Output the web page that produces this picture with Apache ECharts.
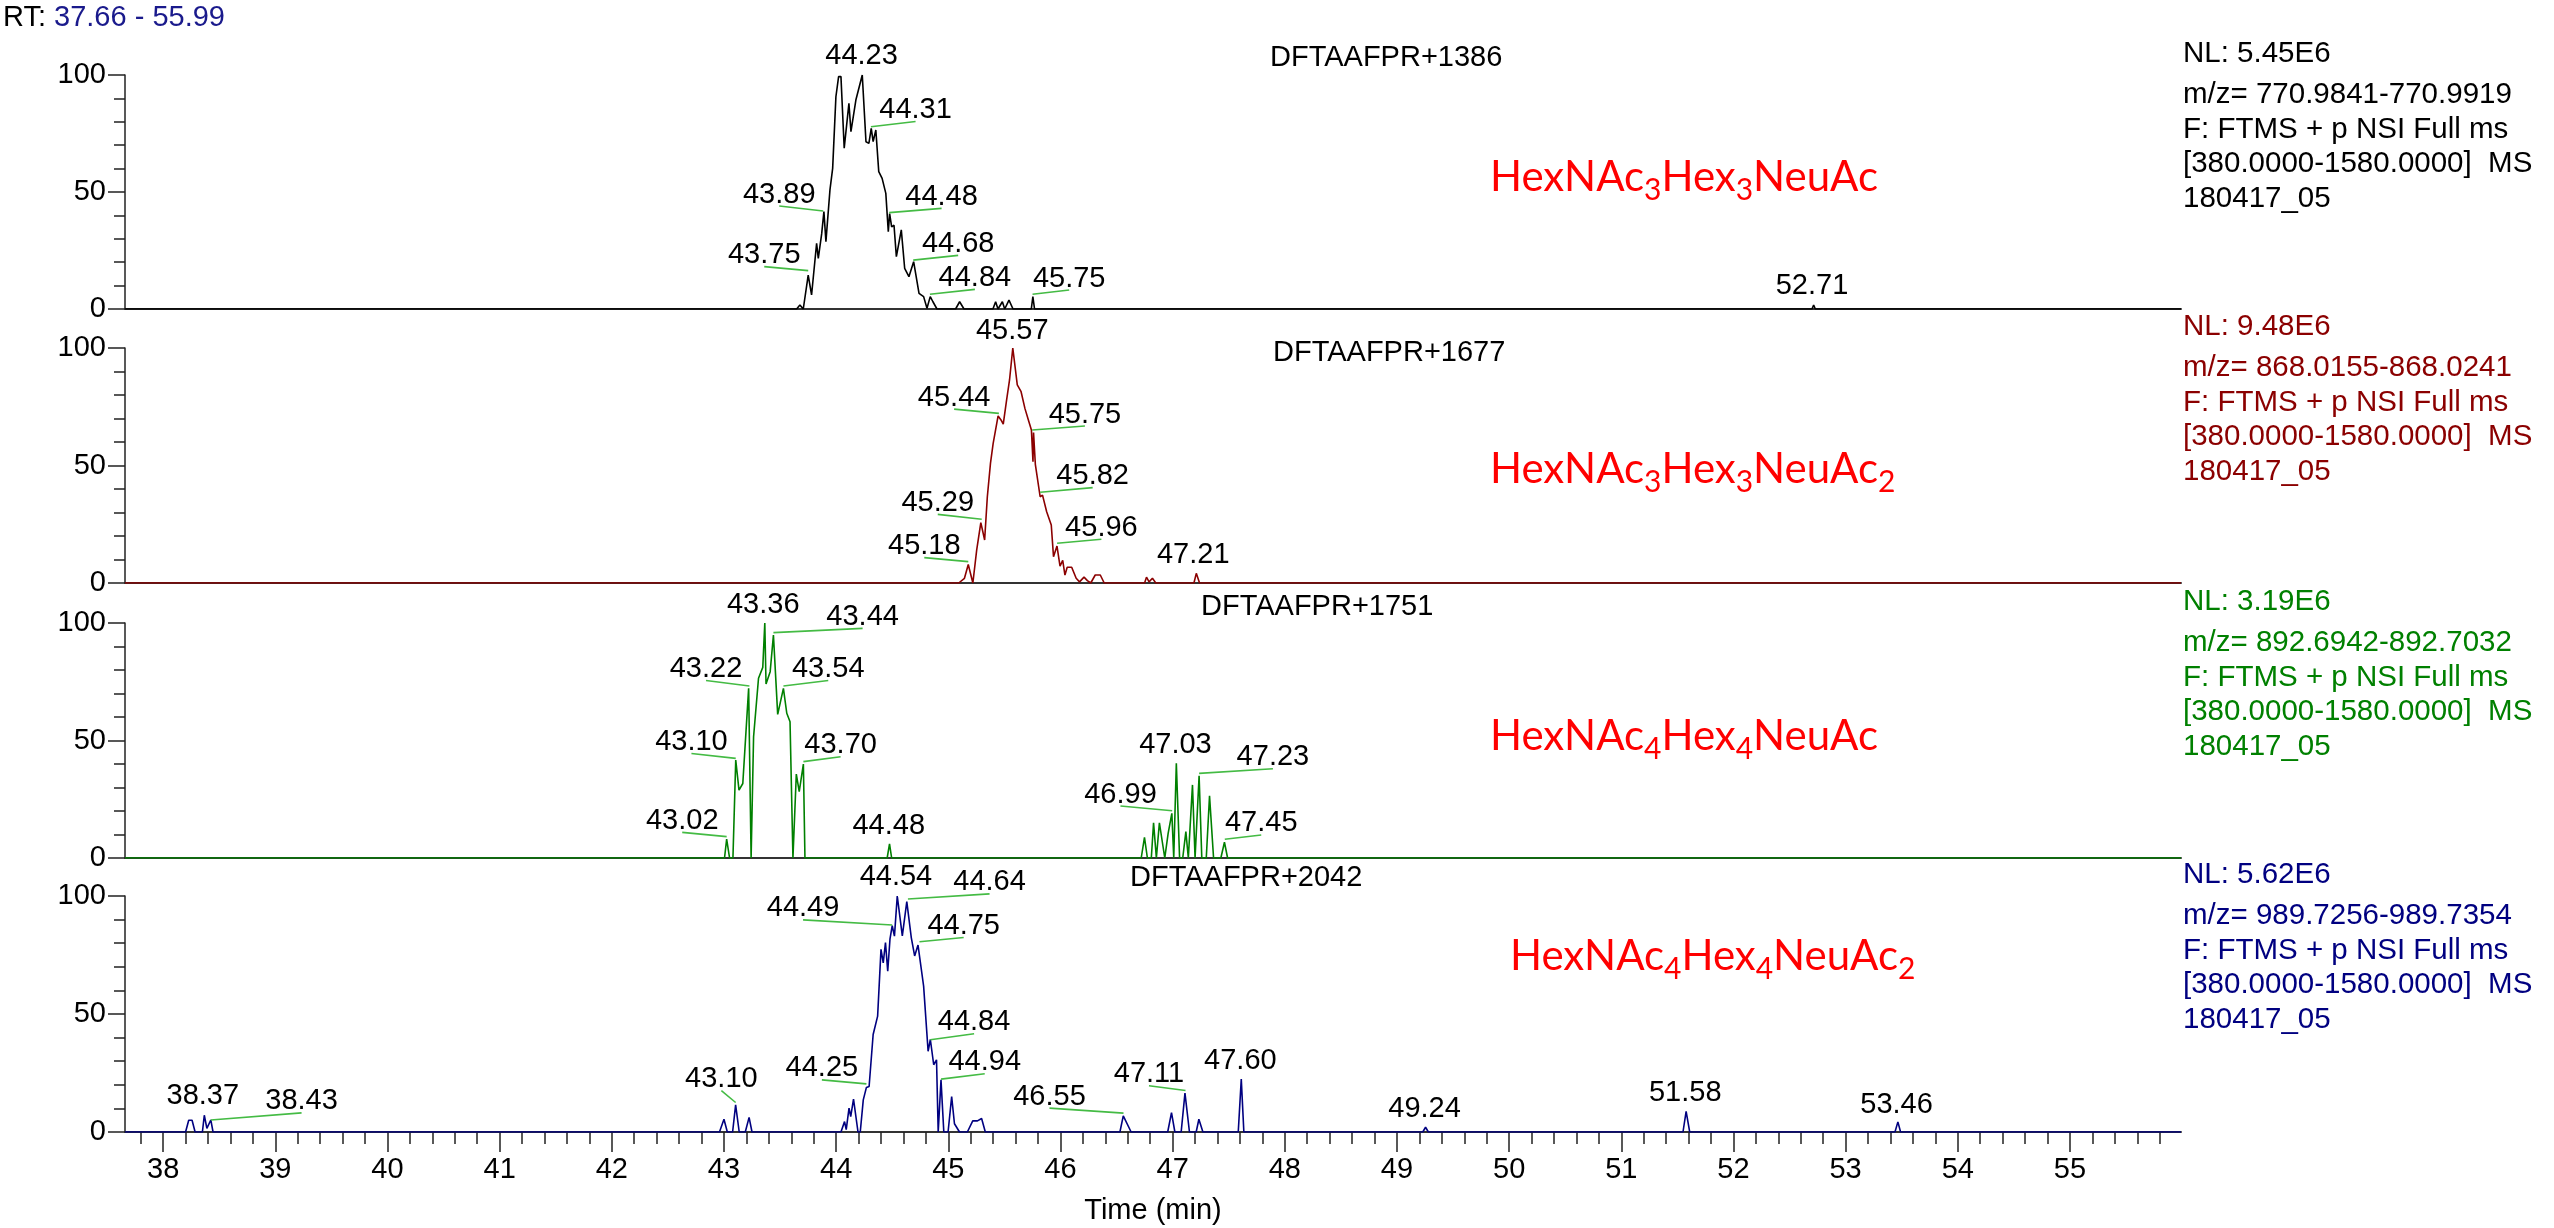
<!DOCTYPE html>
<html>
<head>
<meta charset="utf-8">
<script src="https://cdn.jsdelivr.net/npm/echarts@6/dist/echarts.min.js"></script>
<style>
html,body{margin:0;padding:0;background:#fff;}
#chart{width:2554px;height:1228px;}
</style>
</head>
<body>
<div id="chart"></div>
<script>
// ---------------- DATA ----------------
const timeMin = 37.66, timeMax = 55.99;
const xTickLabels = [38,39,40,41,42,43,44,45,46,47,48,49,50,51,52,53,54,55];
const yTickLabels = [0,50,100];
const yMinorTicks = [10,20,30,40,60,70,80,90];
const rtRange = '37.66 - 55.99';

const panelNames = ['DFTAAFPR+1386','DFTAAFPR+1677','DFTAAFPR+1751','DFTAAFPR+2042'];
const glycanNames = [
  '{n|HexNAc}{s|3}{n|Hex}{s|3}{n|NeuAc}',
  '{n|HexNAc}{s|3}{n|Hex}{s|3}{n|NeuAc}{s|2}',
  '{n|HexNAc}{s|4}{n|Hex}{s|4}{n|NeuAc}',
  '{n|HexNAc}{s|4}{n|Hex}{s|4}{n|NeuAc}{s|2}'
];
const infoNL = ['NL: 5.45E6','NL: 9.48E6','NL: 3.19E6','NL: 5.62E6'];
const infoMz = ['m/z= 770.9841-770.9919','m/z= 868.0155-868.0241','m/z= 892.6942-892.7032','m/z= 989.7256-989.7354'];
const infoScan = 'F: FTMS + p NSI Full ms';
const infoRange = '[380.0000-1580.0000]  MS';
const infoFile = '180417_05';

// traces: [time (min), relative abundance (%)]
const trace1 = [[37.66,0],[43.648,0],[43.677,1.7],[43.707,0],[43.751,14.5],[43.781,6.0],[43.826,28.1],[43.841,21.6],[43.871,32.1],[43.891,41.6],[43.909,28.8],[43.945,50.9],[43.969,60.1],[43.998,90.7],[44.022,99.3],[44.043,99.3],[44.072,68.7],[44.114,87.9],[44.132,75.8],[44.176,89.3],[44.233,100],[44.266,71.5],[44.292,70.8],[44.313,77.2],[44.33,71.5],[44.354,76.5],[44.371,76.5],[44.38,58.7],[44.41,55.8],[44.443,49.4],[44.465,33.0],[44.477,40.8],[44.495,35.1],[44.516,35.8],[44.537,22.4],[44.581,33.8],[44.611,17.4],[44.649,13.8],[44.691,20.2],[44.739,6.7],[44.78,5.3],[44.81,0.3],[44.839,5.3],[44.863,3.1],[44.899,0],[45.065,0],[45.101,3.1],[45.14,0],[45.398,0],[45.422,3.1],[45.443,0],[45.482,3.1],[45.503,0],[45.541,3.8],[45.577,0],[45.74,0],[45.754,5.3],[45.769,0],[52.70,0],[52.715,1.7],[52.73,0],[55.99,0]];
const trace2 = [[37.66,0],[45.093,0],[45.144,2],[45.178,7.9],[45.219,0],[45.253,14],[45.29,25.7],[45.324,18.3],[45.348,36.7],[45.376,50.9],[45.40,59.4],[45.444,71.1],[45.47,69.4],[45.49,67.6],[45.52,77.9],[45.546,86.4],[45.575,100],[45.615,84.3],[45.649,81.4],[45.683,74.3],[45.718,68.7],[45.741,65.1],[45.755,51.6],[45.76,64],[45.776,50.5],[45.819,36.7],[45.84,37.4],[45.877,30.3],[45.918,24.7],[45.938,11.2],[45.969,15.7],[45.996,7.2],[46.02,9.6],[46.04,3.4],[46.06,6.7],[46.10,6.7],[46.14,2],[46.17,0.5],[46.21,2.5],[46.24,1],[46.27,0],[46.31,3.4],[46.355,3.4],[46.39,0],[46.75,0],[46.767,2.5],[46.79,0.5],[46.82,2],[46.85,0],[47.19,0],[47.211,4.1],[47.24,0],[55.99,0]];
const trace3 = [[37.66,0],[43.005,0],[43.024,8.0],[43.05,0],[43.08,0],[43.105,41.7],[43.134,28.9],[43.168,31.7],[43.22,72.2],[43.242,0],[43.264,51.6],[43.308,76.5],[43.346,81.1],[43.364,100],[43.375,74],[43.412,79.3],[43.441,94.9],[43.479,61.1],[43.53,72.2],[43.56,61.6],[43.589,58],[43.615,0],[43.645,35.7],[43.671,28.2],[43.708,40],[43.722,0],[44.455,0],[44.476,6.0],[44.495,0],[46.72,0],[46.749,8.8],[46.775,0],[46.81,0],[46.83,15],[46.855,0],[46.882,15],[46.93,0],[46.96,10.5],[46.993,19],[47.01,0],[47.033,40.3],[47.062,0],[47.09,0],[47.118,11.2],[47.14,0],[47.177,31.1],[47.2,0],[47.236,35],[47.26,0],[47.30,0],[47.329,26.5],[47.365,0],[47.43,0],[47.462,6.7],[47.49,0],[55.99,0]];
const trace4 = [[37.66,0],[38.20,0],[38.228,5],[38.258,5],[38.285,0],[38.35,0],[38.367,7.1],[38.39,1.5],[38.425,5.1],[38.445,0],[42.96,0],[43.0,5.4],[43.03,0],[43.077,0],[43.104,11.5],[43.136,0],[43.19,0],[43.224,6.2],[43.25,0],[44.043,0],[44.075,4.4],[44.09,1],[44.115,10.1],[44.13,6.5],[44.155,13.9],[44.195,0],[44.215,0],[44.242,13.6],[44.27,18.9],[44.294,19.3],[44.33,41.3],[44.37,49.1],[44.40,77.4],[44.42,71.7],[44.44,80.3],[44.46,68.1],[44.48,81.7],[44.50,87.4],[44.52,83],[44.545,100],[44.59,83.1],[44.63,97.6],[44.67,82.4],[44.70,74.6],[44.73,79.2],[44.743,79.2],[44.78,61.8],[44.82,34.2],[44.84,39.2],[44.87,28.5],[44.895,30.6],[44.91,0],[44.935,22.1],[44.96,0],[44.998,0],[45.03,15],[45.055,3.5],[45.1,0],[45.17,0],[45.218,4.7],[45.26,4.7],[45.297,5.7],[45.33,0],[46.53,0],[46.56,6.8],[46.63,0],[46.956,0],[46.99,8.2],[47.02,0],[47.076,0],[47.11,16.5],[47.15,0],[47.21,0],[47.234,5.4],[47.27,0],[47.585,0],[47.612,22.4],[47.635,0],[49.23,0],[49.255,2],[49.28,0],[51.55,0],[51.578,8.7],[51.61,0],[53.44,0],[53.466,4.3],[53.49,0],[55.99,0]];

// peak labels: [peak time, peak abundance, label time, label abundance, text]
const labels1 = [[44.233,100,44.227,104.3,'44.23'],[44.31,77.9,44.708,80.1,'44.31'],[43.885,41.9,43.493,44.0,'43.89'],[43.751,16.4,43.359,18.1,'43.75'],[44.473,41.2,44.94,43.0,'44.48'],[44.687,20.9,45.088,22.9,'44.68'],[44.836,6.3,45.237,8.4,'44.84'],[45.751,6.3,46.078,8.1,'45.75'],[52.72,1.7,52.70,6.0,'52.71']];
const labels2 = [[45.575,100,45.57,103.7,'45.57'],[45.451,72.2,45.052,74.0,'45.44'],[45.748,65.1,46.218,66.8,'45.75'],[45.819,38.6,46.287,40.6,'45.82'],[45.298,27.1,44.906,29.2,'45.29'],[45.178,9.1,44.786,10.8,'45.18'],[45.97,16.9,46.365,18.6,'45.96'],[47.211,4.1,47.184,8.4,'47.21']];
const labels3 = [[43.364,100,43.35,104.1,'43.36'],[43.441,95.9,44.236,97.7,'43.44'],[43.227,73.2,42.84,75.5,'43.22'],[43.53,73.2,43.93,75.5,'43.54'],[43.105,42.4,42.71,44.5,'43.10'],[43.708,41,44.04,43.1,'43.70'],[43.024,9.1,42.628,10.9,'43.02'],[44.476,6.0,44.469,9.8,'44.48'],[47.033,40.3,47.025,44.3,'47.03'],[46.996,20.1,46.535,22.1,'46.99'],[47.236,36,47.894,38,'47.23'],[47.465,8,47.79,9.8,'47.45']];
const labels4 = [[44.545,100,44.533,104.4,'44.54'],[44.64,98.7,45.368,100.9,'44.64'],[44.50,87.7,43.705,89.9,'44.49'],[44.743,80.6,45.137,82.4,'44.75'],[44.84,39.1,45.23,41.6,'44.84'],[44.935,22.4,45.325,24.7,'44.94'],[44.27,20.4,43.873,22.1,'44.25'],[43.104,12.5,42.977,17.5,'43.10'],[46.562,8,45.902,10.1,'46.55'],[47.115,17.6,46.789,19.6,'47.11'],[47.612,22.4,47.604,26.4,'47.60'],[49.255,2,49.246,6.3,'49.24'],[51.578,8.7,51.57,12.9,'51.58'],[53.466,4.3,53.454,8,'53.46'],[38.367,7.1,38.354,11.5,'38.37'],[38.425,5.1,39.234,8.1,'38.43']];

// ---------------- LAYOUT / STYLE ----------------
const traces = [trace1, trace2, trace3, trace4];
const peakLabels = [labels1, labels2, labels3, labels4];
const colors = ['#000000', '#8b0000', '#008000', '#000080'];
const FONT = '"Liberation Sans", Arial, sans-serif';
const gridLeft = 125, gridWidth = 2056;
const gridTops = [75, 348, 623, 896];
const gridHeights = [234, 235, 235, 236];
const titlePos = [[1270, 58], [1273, 353], [1201, 607], [1130, 878]];
const glycanPos = [[1490, 177], [1490, 469], [1490, 736], [1510, 956]];
const infoX = 2183;

const minorX = [];
for (let v = 37.8; v < 56; v += 0.2) minorX.push(Math.round(v * 10) / 10);

const chart = echarts.init(document.getElementById('chart'), null, {renderer: 'canvas'});

const grid = [], xAxis = [], yAxis = [], series = [], graphic = [];
for (let i = 0; i < 4; i++) {
  grid.push({left: gridLeft, width: gridWidth, top: gridTops[i], height: gridHeights[i]});
  const bottom = i === 3;
  xAxis.push({
    gridIndex: i, type: 'value', min: timeMin, max: timeMax,
    axisLine: {show: true, onZero: false, lineStyle: {color: '#333', width: 2}},
    axisTick: bottom ? {show: true, customValues: xTickLabels, length: 20, lineStyle: {color: '#222', width: 1.5}} : {show: false},
    axisLabel: bottom ? {show: true, customValues: xTickLabels, margin: 23, fontSize: 29, fontFamily: FONT, color: '#000'} : {show: false},
    splitLine: {show: false},
    name: bottom ? 'Time (min)' : '',
    nameLocation: 'middle', nameGap: 64,
    nameTextStyle: {fontSize: 29, fontFamily: FONT, color: '#000'}
  });
  yAxis.push({
    gridIndex: i, type: 'value', min: 0, max: 100, position: 'left',
    axisLine: {show: true, lineStyle: {color: '#222', width: 1.5}},
    axisTick: {show: true, customValues: yTickLabels, length: 17, lineStyle: {color: '#222', width: 1.5}},
    axisLabel: {show: true, customValues: yTickLabels, margin: 19, fontSize: 29, fontFamily: FONT, color: '#000'},
    splitLine: {show: false}
  });
  yAxis.push({
    gridIndex: i, type: 'value', min: 0, max: 100, position: 'left', offset: 0,
    axisLine: {show: false},
    axisTick: {show: true, customValues: yMinorTicks, length: 11, lineStyle: {color: '#222', width: 1.5}},
    axisLabel: {show: false},
    splitLine: {show: false}
  });
  series.push({
    type: 'line', xAxisIndex: i, yAxisIndex: 2 * i, data: traces[i],
    showSymbol: false, symbol: 'none', animation: false, z: 3,
    lineStyle: {color: colors[i], width: 1.6}
  });
  const labs = peakLabels[i];
  series.push({
    type: 'custom', xAxisIndex: i, yAxisIndex: 2 * i, clip: false, animation: false, z: 4,
    data: labs.map(a => a.slice(0, 4)),
    renderItem: function (params, api) {
      const p = api.coord([api.value(0), api.value(1)]);
      const a = api.coord([api.value(2), api.value(3)]);
      const leader = Math.abs(a[0] - p[0]) > 8;
      const children = [];
      if (leader) {
        children.push({type: 'line', shape: {x1: p[0], y1: p[1], x2: a[0], y2: a[1]},
          style: {stroke: '#44bb44', lineWidth: 1.6}});
      }
      children.push({type: 'text', style: {
        text: labs[params.dataIndex][4], x: a[0], y: a[1] + (leader ? 3 : 6),
        align: 'center', verticalAlign: 'bottom', fill: '#000',
        font: '29px ' + FONT}});
      return {type: 'group', children: children};
    }
  });
  // panel title
  graphic.push({type: 'text', x: titlePos[i][0], y: titlePos[i][1], z: 10,
    style: {text: panelNames[i], fill: '#000', font: '29px ' + FONT, align: 'left', verticalAlign: 'middle'}});
  // glycan composition (red)
  graphic.push({type: 'text', x: glycanPos[i][0], y: glycanPos[i][1], z: 10,
    style: {text: glycanNames[i], align: 'left', verticalAlign: 'middle',
      rich: {
        n: {fontSize: 42, fontFamily: 'Lato', fill: '#ff0000'},
        s: {fontSize: 30, fontFamily: 'Lato', fill: '#ff0000', padding: [26, 0, 0, 0]}
      }}});
  // info block on the right
  const infoLines = [infoNL[i], infoMz[i], infoScan, infoRange, infoFile];
  const infoOffsets = [-21, 20, 55, 89, 124];
  infoLines.forEach((t, k) => {
    graphic.push({type: 'text', x: infoX, y: gridTops[i] + infoOffsets[k], z: 10,
      style: {text: t, fill: colors[i], font: '29.5px ' + FONT, align: 'left', verticalAlign: 'middle'}});
  });
}
// minor ticks on bottom time axis
xAxis.push({
  gridIndex: 3, type: 'value', min: timeMin, max: timeMax, position: 'bottom', offset: 0,
  axisLine: {show: false},
  axisTick: {show: true, customValues: minorX, length: 12, lineStyle: {color: '#222', width: 1.5}},
  axisLabel: {show: false}, splitLine: {show: false}
});
// RT header
graphic.push({type: 'text', x: 3, y: 18, z: 10,
  style: {text: '{a|RT: }{b|' + rtRange + '}', align: 'left', verticalAlign: 'middle',
    rich: {a: {fontSize: 29, fontFamily: FONT, fill: '#000'}, b: {fontSize: 29, fontFamily: FONT, fill: '#1a1a8c'}}}});

chart.setOption({
  animation: false,
  backgroundColor: '#ffffff',
  grid: grid, xAxis: xAxis, yAxis: yAxis, series: series, graphic: graphic
});
</script>
</body>
</html>
